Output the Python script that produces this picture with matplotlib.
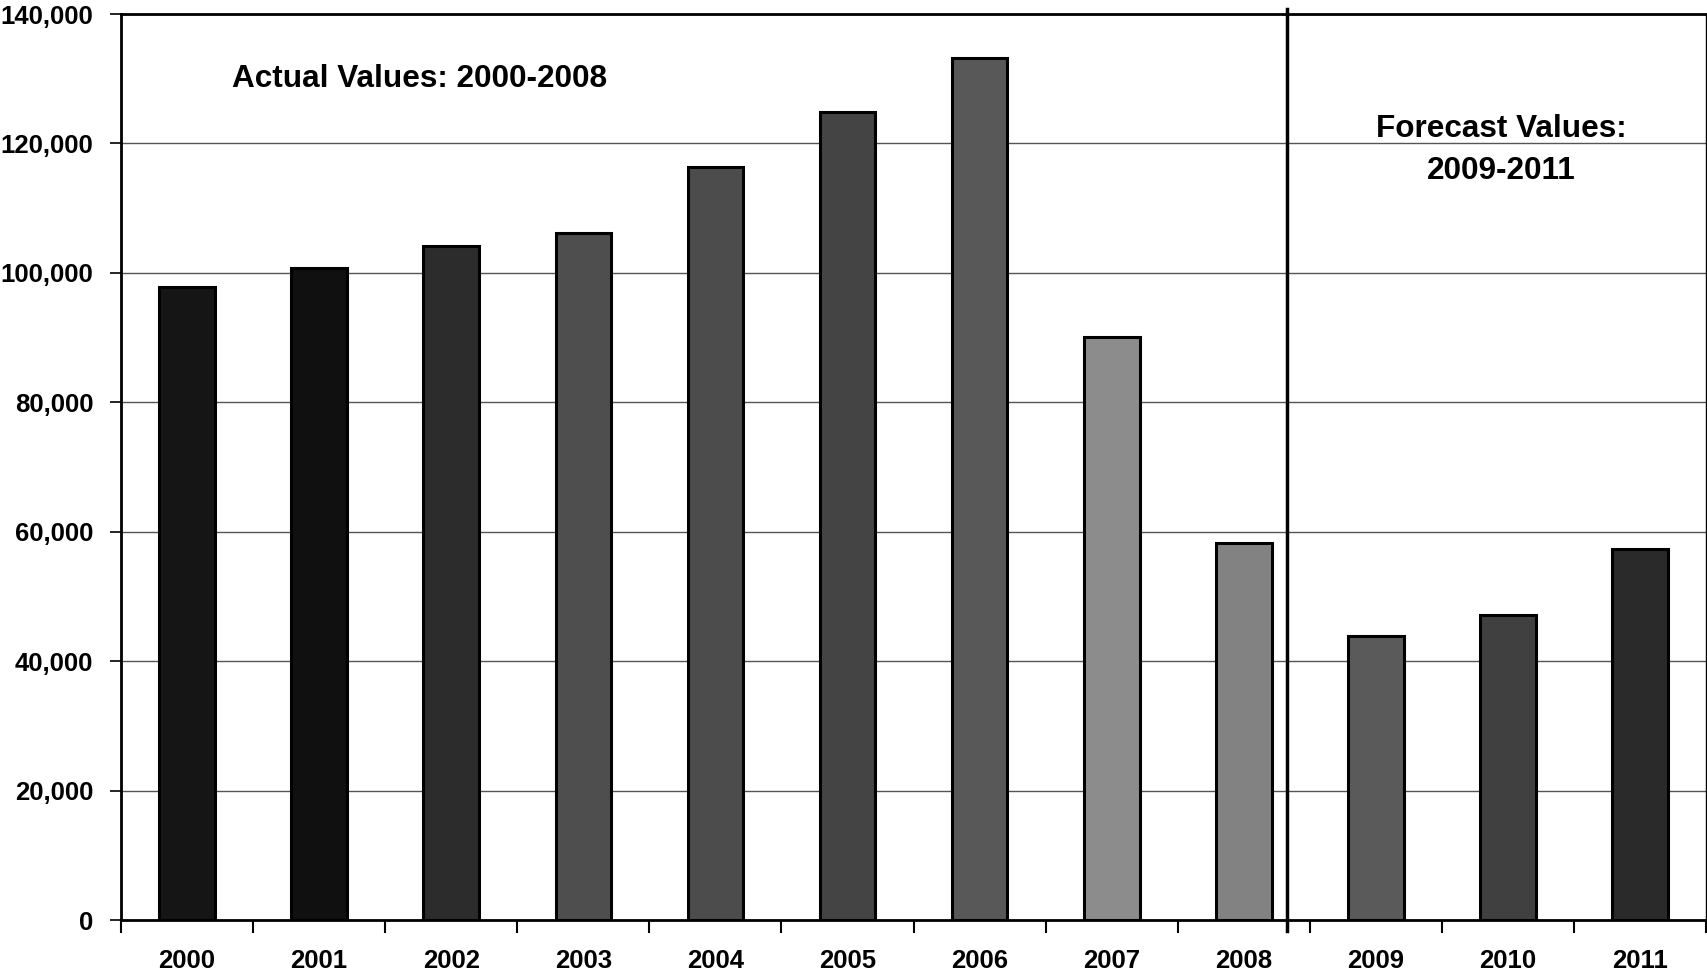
import numpy as np
import matplotlib.pyplot as plt
from matplotlib.ticker import FuncFormatter, MultipleLocator

years = ['2000', '2001', '2002', '2003', '2004', '2005',
         '2006', '2007', '2008', '2009', '2010', '2011']
values = [97800, 100800, 104200, 106200, 116300, 124800,
          133200, 90100, 58300, 43900, 47200, 57300]
bar_colors = ['#151515', '#101010', '#2c2c2c', '#4e4e4e', '#4c4c4c', '#444444',
              '#585858', '#8c8c8c', '#828282', '#5a5a5a', '#404040', '#2a2a2a']

plt.rcParams['font.family'] = ['Liberation Sans', 'DejaVu Sans']
plt.rcParams['font.weight'] = 'bold'

fig = plt.figure(figsize=(17.08, 9.74), dpi=100)
ax = fig.add_axes([0.0708, 0.0554, 0.9282, 0.9302])

x = np.arange(len(years))
ax.bar(x, values, width=0.42, color=bar_colors, edgecolor='black',
       linewidth=2.2, zorder=3)

ax.set_xlim(-0.5, len(years) - 0.5)
ax.set_ylim(0, 140000)
ax.yaxis.set_major_locator(MultipleLocator(20000))
ax.yaxis.set_major_formatter(FuncFormatter(lambda v, _: f'{int(v):,}'))
ax.grid(axis='y', color='#555555', linewidth=1.0, zorder=0)

# year labels centred under bars, tick marks on category boundaries
ax.set_xticks(x)
ax.set_xticklabels(years)
ax.set_xticks(np.arange(-0.5, len(years)), minor=True)
ax.tick_params(axis='x', which='major', length=0, pad=21, labelsize=18.5)
ax.tick_params(axis='x', which='minor', length=9, width=1.5, direction='out')
ax.tick_params(axis='y', length=8, width=1.2, direction='out', pad=12,
               labelsize=18.5)

for side in ['left', 'bottom', 'top']:
    ax.spines[side].set_linewidth(2)
ax.spines['right'].set_linewidth(1)

# actual / forecast divider
ax.axvline(8.33, ymin=-0.012, ymax=1.006, color='black', linewidth=2.5,
           clip_on=False, zorder=4)

ax.text(1.76, 129900, 'Actual Values: 2000-2008', ha='center', va='center',
        fontsize=22.7, fontweight='bold')
ax.text(9.95, 119000, 'Forecast Values:\n2009-2011', ha='center',
        va='center', fontsize=22.7, fontweight='bold', linespacing=1.5)

fig.savefig('out.png', dpi=100)
